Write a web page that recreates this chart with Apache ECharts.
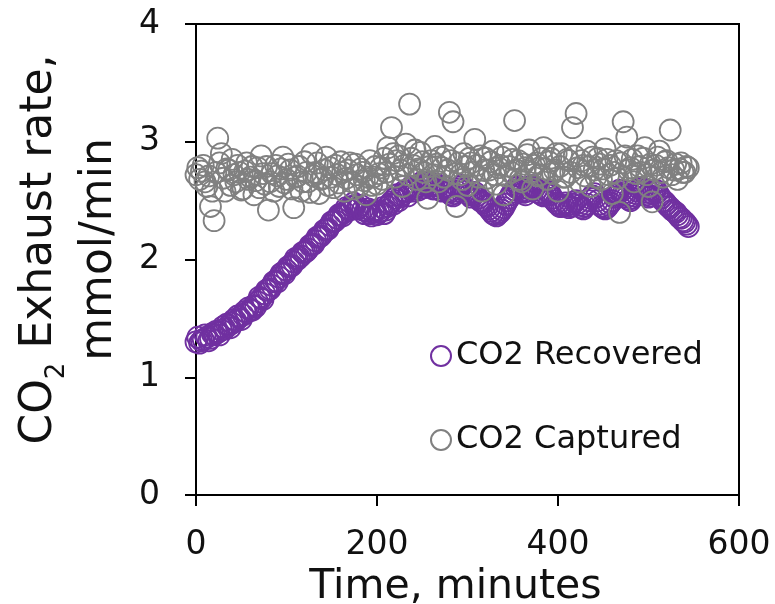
<!DOCTYPE html>
<html>
<head>
<meta charset="utf-8">
<script src="https://cdn.jsdelivr.net/npm/echarts@6/dist/echarts.min.js"></script>
<style>
  html, body { margin: 0; padding: 0; background: #fff; }
  #chart { width: 775px; height: 604px; }
</style>
</head>
<body>
<div id="chart"></div>
<script>
// sampling times, minutes
const minutes = [
  0, 2, 4, 6, 8, 10, 12, 14, 16, 18, 20, 22, 24, 26, 28, 30, 32, 34, 36, 38,
  40, 42, 44, 46, 48, 50, 52, 54, 56, 58, 60, 62, 64, 66, 68, 70, 72, 74, 76, 78,
  80, 82, 84, 86, 88, 90, 92, 94, 96, 98, 100, 102, 104, 106, 108, 110, 112, 114, 116, 118,
  120, 122, 124, 126, 128, 130, 132, 134, 136, 138, 140, 142, 144, 146, 148, 150, 152, 154, 156, 158,
  160, 162, 164, 166, 168, 170, 172, 174, 176, 178, 180, 182, 184, 186, 188, 190, 192, 194, 196, 198,
  200, 202, 204, 206, 208, 210, 212, 214, 216, 218, 220, 222, 224, 226, 228, 230, 232, 234, 236, 238,
  240, 242, 244, 246, 248, 250, 252, 254, 256, 258, 260, 262, 264, 266, 268, 270, 272, 274, 276, 278,
  280, 282, 284, 286, 288, 290, 292, 294, 296, 298, 300, 302, 304, 306, 308, 310, 312, 314, 316, 318,
  320, 322, 324, 326, 328, 330, 332, 334, 336, 338, 340, 342, 344, 346, 348, 350, 352, 354, 356, 358,
  360, 362, 364, 366, 368, 370, 372, 374, 376, 378, 380, 382, 384, 386, 388, 390, 392, 394, 396, 398,
  400, 402, 404, 406, 408, 410, 412, 414, 416, 418, 420, 422, 424, 426, 428, 430, 432, 434, 436, 438,
  440, 442, 444, 446, 448, 450, 452, 454, 456, 458, 460, 462, 464, 466, 468, 470, 472, 474, 476, 478,
  480, 482, 484, 486, 488, 490, 492, 494, 496, 498, 500, 502, 504, 506, 508, 510, 512, 514, 516, 518,
  520, 522, 524, 526, 528, 530, 532, 534, 536, 538, 540, 542, 544
];

// CO2 Recovered, mmol/min
const recovered = [
  1.30, 1.34, 1.29, 1.31, 1.32, 1.36, 1.34, 1.31, 1.33, 1.37, 1.36, 1.39, 1.38, 1.36, 1.40, 1.43, 1.41, 1.45, 1.44, 1.42,
  1.46, 1.49, 1.48, 1.52, 1.51, 1.49, 1.53, 1.56, 1.55, 1.59, 1.57, 1.57, 1.61, 1.60, 1.64, 1.68, 1.67, 1.66, 1.71, 1.74,
  1.74, 1.75, 1.78, 1.81, 1.82, 1.81, 1.85, 1.88, 1.89, 1.88, 1.91, 1.94, 1.94, 1.95, 1.98, 2.01, 2.00, 2.02, 2.03, 2.06,
  2.06, 2.07, 2.09, 2.12, 2.13, 2.13, 2.16, 2.19, 2.19, 2.20, 2.22, 2.25, 2.25, 2.26, 2.29, 2.32, 2.32, 2.33, 2.35, 2.38,
  2.38, 2.37, 2.40, 2.44, 2.43, 2.42, 2.45, 2.48, 2.46, 2.43, 2.44, 2.46, 2.42, 2.39, 2.41, 2.43, 2.39, 2.37, 2.40, 2.42,
  2.38, 2.40, 2.41, 2.44, 2.39, 2.42, 2.45, 2.47, 2.49, 2.47, 2.52, 2.55, 2.50, 2.53, 2.55, 2.58, 2.57, 2.54, 2.60, 2.62,
  2.58, 2.60, 2.62, 2.59, 2.64, 2.66, 2.61, 2.63, 2.65, 2.62, 2.63, 2.60, 2.60, 2.64, 2.62, 2.59, 2.58, 2.62, 2.61, 2.58,
  2.57, 2.55, 2.54, 2.56, 2.58, 2.60, 2.62, 2.63, 2.60, 2.58, 2.56, 2.55, 2.53, 2.55, 2.57, 2.54, 2.52, 2.50, 2.49, 2.48,
  2.46, 2.45, 2.43, 2.41, 2.39, 2.38, 2.37, 2.39, 2.40, 2.42, 2.44, 2.47, 2.50, 2.52, 2.55, 2.57, 2.59, 2.61, 2.62, 2.60,
  2.58, 2.57, 2.55, 2.58, 2.60, 2.62, 2.63, 2.61, 2.59, 2.57, 2.56, 2.55, 2.54, 2.56, 2.58, 2.57, 2.55, 2.52, 2.50, 2.48,
  2.47, 2.45, 2.45, 2.46, 2.48, 2.46, 2.44, 2.45, 2.47, 2.49, 2.50, 2.48, 2.46, 2.44, 2.43, 2.45, 2.47, 2.50, 2.52, 2.54,
  2.56, 2.53, 2.50, 2.47, 2.45, 2.44, 2.43, 2.44, 2.46, 2.48, 2.50, 2.53, 2.55, 2.57, 2.59, 2.58, 2.56, 2.55, 2.53, 2.51,
  2.50, 2.52, 2.54, 2.56, 2.58, 2.60, 2.61, 2.59, 2.57, 2.55, 2.53, 2.54, 2.56, 2.58, 2.59, 2.57, 2.54, 2.52, 2.50, 2.49,
  2.47, 2.45, 2.44, 2.42, 2.41, 2.40, 2.38, 2.36, 2.35, 2.33, 2.32, 2.30, 2.28
];

// CO2 Captured, mmol/min
const captured = [
  2.72, 2.78, 2.68, 2.75, 2.80, 2.66, 2.62, 2.71, 2.45, 2.58, 2.33, 2.74, 3.03, 2.82, 2.90, 2.69, 2.58, 2.77, 2.76, 2.63,
  2.85, 2.72, 2.66, 2.80, 2.74, 2.59, 2.60, 2.75, 2.82, 2.68, 2.70, 2.79, 2.55, 2.67, 2.78, 2.61, 2.88, 2.73, 2.64, 2.79,
  2.42, 2.66, 2.73, 2.58, 2.80, 2.71, 2.62, 2.77, 2.87, 2.65, 2.68, 2.81, 2.76, 2.60, 2.44, 2.70, 2.71, 2.79, 2.58, 2.66,
  2.83, 2.74, 2.66, 2.57, 2.90, 2.71, 2.74, 2.82, 2.56, 2.68, 2.69, 2.76, 2.87, 2.63, 2.78, 2.70, 2.61, 2.80, 2.72, 2.65,
  2.83, 2.74, 2.58, 2.69, 2.76, 2.82, 2.66, 2.60, 2.81, 2.72, 2.62, 2.77, 2.74, 2.67, 2.55, 2.70, 2.84, 2.63, 2.70, 2.79,
  2.64, 2.73, 2.78, 2.68, 2.86, 2.74, 2.95, 2.81, 3.12, 2.90, 2.70, 2.84, 2.88, 2.76, 2.62, 2.80, 2.98, 2.72, 3.32, 2.86,
  2.80, 2.93, 2.68, 2.77, 2.91, 2.83, 2.74, 2.66, 2.52, 2.79, 2.84, 2.72, 2.96, 2.81, 2.66, 2.87, 2.78, 2.70, 2.88, 2.76,
  3.25, 2.84, 3.17, 2.73, 2.45, 2.82, 2.72, 2.68, 2.90, 2.79, 2.63, 2.86, 2.82, 2.74, 3.02, 2.80, 2.70, 2.88, 2.58, 2.76,
  2.86, 2.69, 2.76, 2.83, 2.92, 2.72, 2.64, 2.78, 2.80, 2.87, 2.55, 2.71, 2.90, 2.79, 2.74, 2.85, 3.18, 2.76, 2.84, 2.68,
  2.66, 2.81, 2.78, 2.89, 2.93, 2.74, 2.60, 2.80, 2.82, 2.71, 2.72, 2.86, 2.95, 2.77, 2.68, 2.83, 2.86, 2.73, 2.76, 2.90,
  2.58, 2.79, 2.90, 2.70, 2.70, 2.85, 2.84, 2.74, 3.12, 2.88, 3.24, 2.78, 2.66, 2.84, 2.80, 2.71, 2.92, 2.79, 2.62, 2.87,
  2.76, 2.70, 2.86, 2.81, 2.68, 2.77, 2.94, 2.85, 2.72, 2.80, 2.56, 2.74, 2.84, 2.69, 2.40, 2.82, 3.17, 2.88, 3.04, 2.76,
  2.78, 2.85, 2.66, 2.73, 2.88, 2.79, 2.74, 2.86, 2.95, 2.72, 2.62, 2.81, 2.49, 2.76, 2.80, 2.87, 2.92, 2.74, 2.70, 2.83,
  2.84, 2.78, 3.10, 2.72, 2.76, 2.81, 2.68, 2.77, 2.82, 2.74, 2.74, 2.79, 2.78
];

const purple = '#7030a0';
const grey = '#808080';
const font = 'DejaVu Sans';

const chart = echarts.init(document.getElementById('chart'));

const pairs = (ys) => minutes.map((t, i) => [t, ys[i]]);

chart.setOption({
  animation: false,
  backgroundColor: '#fff',
  grid: {
    left: 196, top: 24, right: 36, bottom: 109,
    containLabel: false, outerBoundsMode: 'none',
    show: true, borderColor: '#000', borderWidth: 2, backgroundColor: 'transparent'
  },
  legend: {
    orient: 'vertical',
    left: 425, top: 333,
    itemWidth: 20, itemHeight: 20, itemGap: 48,
    textStyle: { fontFamily: font, fontSize: 32, color: '#111', lineHeight: 36 },
    data: ['CO2 Recovered', 'CO2 Captured']
  },
  xAxis: {
    type: 'value', min: 0, max: 600, interval: 200,
    name: 'Time, minutes', nameLocation: 'middle', nameGap: 61,
    nameTextStyle: { fontFamily: font, fontSize: 41, color: '#111', padding: [0, 24, 0, 0] },
    axisLine: { show: true, lineStyle: { color: '#000', width: 2 } },
    axisTick: { show: true, inside: false, length: 11, lineStyle: { color: '#000', width: 2 } },
    axisLabel: { fontFamily: font, fontSize: 33, color: '#111', margin: 34 },
    splitLine: { show: false }
  },
  yAxis: {
    type: 'value', min: 0, max: 4, interval: 1,
    name: '{a|CO}{sub|2}{a| Exhaust rate,}\n{a|mmol/min}',
    nameLocation: 'middle', nameRotate: 90, nameGap: 66,
    nameTextStyle: {
      fontFamily: font, color: '#111', padding: [0, 0, 0, 20],
      rich: {
        a: { fontFamily: font, fontSize: 44, color: '#111', lineHeight: 60 },
        sub: { fontFamily: font, fontSize: 26, color: '#111', lineHeight: 30, verticalAlign: 'bottom' }
      }
    },
    axisLine: { show: true, lineStyle: { color: '#000', width: 2 } },
    axisTick: { show: true, inside: false, length: 11, lineStyle: { color: '#000', width: 2 } },
    axisLabel: { fontFamily: font, fontSize: 33, color: '#111', margin: 36 },
    splitLine: { show: false }
  },
  series: [
    {
      name: 'CO2 Recovered', type: 'scatter', symbol: 'circle', symbolSize: 21,
      itemStyle: { color: 'rgba(0,0,0,0)', borderColor: purple, borderWidth: 1.8, opacity: 1 },
      data: pairs(recovered)
    },
    {
      name: 'CO2 Captured', type: 'scatter', symbol: 'circle', symbolSize: 21,
      itemStyle: { color: 'rgba(0,0,0,0)', borderColor: grey, borderWidth: 1.8, opacity: 1 },
      data: pairs(captured)
    }
  ]
});
</script>
</body>
</html>
